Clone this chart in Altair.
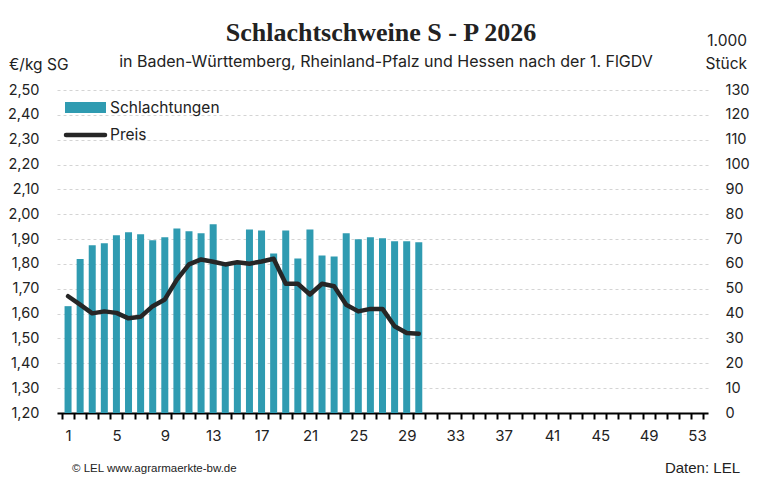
import altair as alt
import pandas as pd

weeks = list(range(1, 31))
schlachtungen = [43.0, 62.0, 67.5, 68.3, 71.5, 72.7, 71.9, 69.5, 70.7, 74.3,
                 73.1, 72.3, 76.0, 60.0, 61.0, 73.9, 73.5, 64.2, 73.5, 62.2,
                 73.9, 63.4, 63.0, 72.3, 69.9, 70.7, 70.3, 69.1, 69.1, 68.7]
preis = [1.670, 1.636, 1.601, 1.609, 1.603, 1.581, 1.587, 1.630, 1.657, 1.737,
         1.798, 1.818, 1.809, 1.798, 1.807, 1.801, 1.810, 1.821, 1.720, 1.720,
         1.677, 1.720, 1.710, 1.636, 1.609, 1.619, 1.619, 1.549, 1.522, 1.519]

df = pd.DataFrame({"KW": weeks, "Schlachtungen": schlachtungen, "Preis": preis})

W, H = 651, 323
FONT = "Inter"
TXT = "#222222"
TEAL = "#2f9bb1"

x_ticks = [0.5 + i for i in range(54)]
x_axis = alt.Axis(
    values=x_ticks, title=None, grid=False,
    domainColor="#000000", domainWidth=2,
    tickColor="#000000", tickWidth=2, tickSize=6,
    labelExpr="(datum.value - 0.5) % 4 == 0 ? format(datum.value + 0.5, 'd') : ''",
    labelOffset=W / 53 / 2, labelPadding=9, labelFont=FONT, labelFontSize=15,
    labelColor=TXT, labelOverlap=False, labelFlush=False, labelBound=False,
)
x_enc = alt.X("KW:Q", scale=alt.Scale(domain=[0.5, 53.5], nice=False, zero=False), axis=x_axis)

bars = alt.Chart(df).mark_bar(color=TEAL, size=7).encode(
    x=x_enc,
    y=alt.Y("Schlachtungen:Q",
            scale=alt.Scale(domain=[0, 130], nice=False),
            axis=alt.Axis(orient="right", title=None, values=list(range(0, 131, 10)),
                          grid=False, domain=False, ticks=False, labelAlign="left",
                          labelPadding=17, labelFont=FONT, labelFontSize=14.5, labelColor=TXT)),
)

line = alt.Chart(df).mark_line(color="#262626", strokeWidth=4.5, strokeCap="round",
                               strokeJoin="round").encode(
    x=x_enc,
    y=alt.Y("Preis:Q",
            scale=alt.Scale(domain=[1.2, 2.5], nice=False, zero=False),
            axis=alt.Axis(orient="left", title=None,
                          values=[round(1.2 + 0.1 * i, 2) for i in range(14)],
                          labelExpr="replace(format(datum.value, '.2f'), '.', ',')",
                          grid=True, gridColor="#d4d4d4", gridDash=[3, 3], gridWidth=1,
                          domain=False, ticks=False, labelPadding=18,
                          labelFont=FONT, labelFontSize=14.5, labelColor=TXT)),
)

one = pd.DataFrame({"a": [0]})


def txt(s, x, y, size=15, align="left", font=FONT, weight="normal", color=TXT, baseline="alphabetic"):
    return alt.Chart(one).mark_text(
        text=s, align=align, baseline=baseline, font=font, fontSize=size,
        fontWeight=weight, color=color
    ).encode(x=alt.value(x), y=alt.value(y))


title = txt("Schlachtschweine S - P 2026", 324, -49, size=26, align="center",
            font="Liberation Serif", weight="bold")
subtitle = txt("in Baden-Württemberg, Rheinland-Pfalz und Hessen nach der 1. FlGDV",
               329, -23, size=16, align="center")
ytitle_l = txt("€/kg SG", -48, -20, size=15.5)
ytitle_r1 = txt("1.000", 690, -44, size=15.5, align="right")
ytitle_r2 = txt("Stück", 690, -21, size=15.5, align="right")
footer_l = txt("© LEL www.agrarmaerkte-bw.de", 15, 382, size=11.5,
               font="Liberation Sans")
footer_r = txt("Daten: LEL", 683, 383, size=15, align="right",
               font="Liberation Sans")

leg_rect = alt.Chart(one).mark_rect(color=TEAL).encode(
    x=alt.value(8), x2=alt.value(49), y=alt.value(12), y2=alt.value(23))
leg_line = alt.Chart(one).mark_rule(color="#262626", strokeWidth=4.5, strokeCap="round").encode(
    x=alt.value(9), x2=alt.value(48), y=alt.value(45))
leg_t1 = txt("Schlachtungen", 53, 18, size=15.5, baseline="middle")
leg_t2 = txt("Preis", 53, 45, size=15.5, baseline="middle")

chart = alt.layer(
    bars, line, title, subtitle, ytitle_l, ytitle_r1, ytitle_r2,
    footer_l, footer_r, leg_rect, leg_line, leg_t1, leg_t2
).resolve_scale(y="independent").properties(
    width=W, height=H,
    autosize=alt.AutoSizeParams(type="none"),
    padding={"left": 49, "top": 82, "right": 42, "bottom": 62},
    background="white",
).configure_view(stroke=None)

chart.save("out.html", embed_options={"renderer": "svg", "actions": False})
